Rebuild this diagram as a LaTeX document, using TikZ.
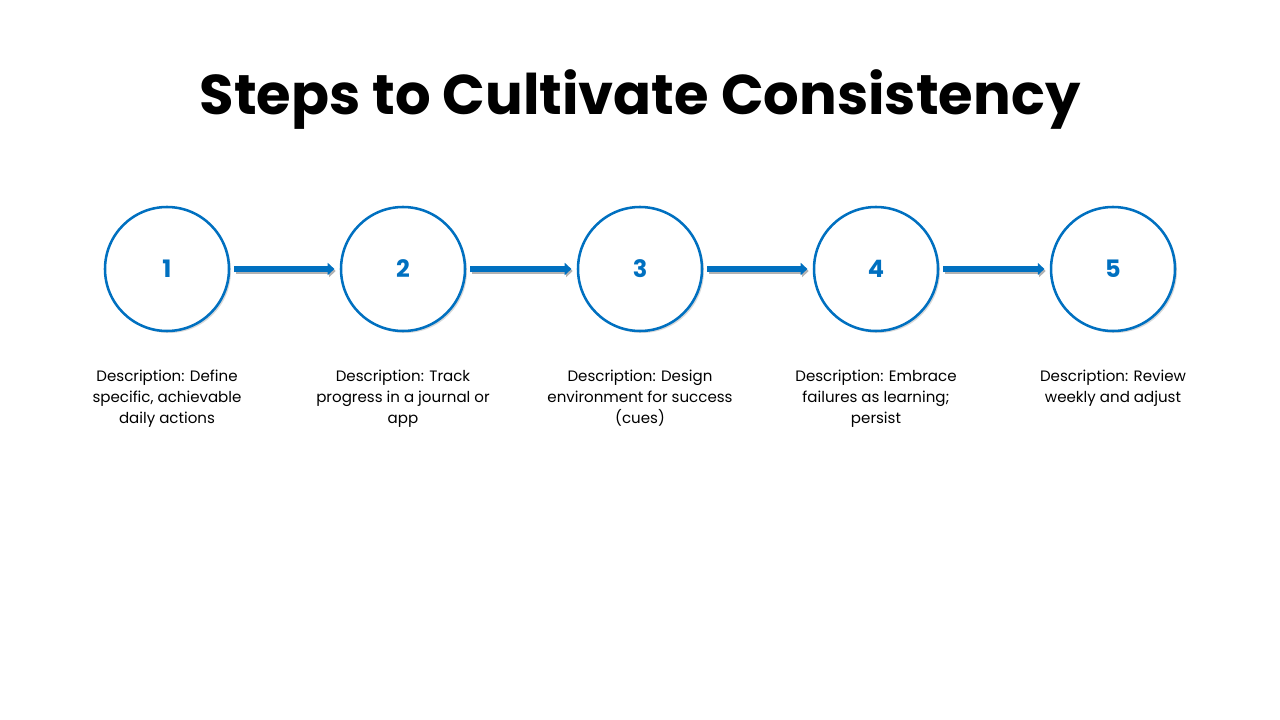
\documentclass[tikz,border=0pt]{standalone}
\usepackage{fontspec}
\setmainfont{Poppins}
\usetikzlibrary{shadows,arrows.meta}
\definecolor{blu}{HTML}{0070C0}
\begin{document}
\begin{tikzpicture}[x=0.75pt,y=-0.75pt,
  stepc/.style={circle,draw=blu,line width=1.9pt,fill=white,minimum size=93pt,inner sep=0pt,
    drop shadow={opacity=0.3,shadow xshift=1.5pt,shadow yshift=-1.5pt},
    text=blu,font=\fontsize{18}{22}\selectfont\bfseries},
  desc/.style={align=center,font=\fontsize{11.3}{15.75}\selectfont,anchor=north},
  conn/.style={draw=blu,line width=4.2pt,-{Triangle[length=5pt,width=9pt]},shorten <=3pt,shorten >=4pt}]
\useasboundingbox (0,0) rectangle (1280,720);
\node[font=\fontsize{42}{50}\selectfont\bfseries] (title) at (640,100) {Steps to Cultivate Consistency};
\foreach \i/\x in {1/167,2/403,3/640,4/876,5/1113}{
  \node[stepc] (c\i) at (\x,269) {\i};
}
\node[desc] (d1) at (167,365) {Description: Define\\specific, achievable\\daily actions};
\node[desc] (d2) at (403,365) {Description: Track\\progress in a journal or\\app};
\node[desc] (d3) at (640,365) {Description: Design\\environment for success\\(cues)};
\node[desc] (d4) at (876,365) {Description: Embrace\\failures as learning;\\persist};
\node[desc] (d5) at (1113,365) {Description: Review\\weekly and adjust};
\foreach \a/\b in {1/2,2/3,3/4,4/5}{
  \path[conn,draw=black!30,transform canvas={xshift=1pt,yshift=-1.5pt}] (c\a) -- (c\b);
  \path[conn] (c\a) -- (c\b);
}
\end{tikzpicture}
\end{document}
